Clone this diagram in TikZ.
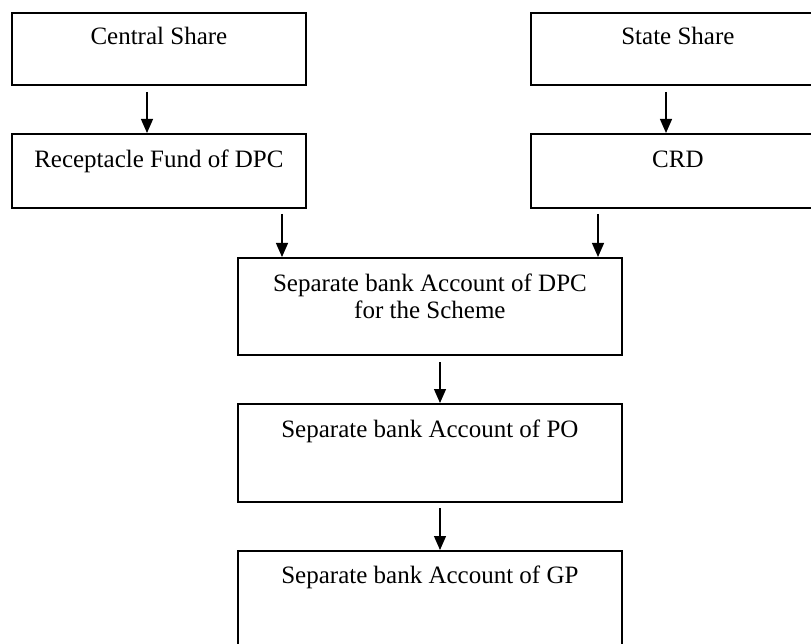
\documentclass[tikz,border=0pt]{standalone}
\usepackage{fontspec}
\setmainfont{Liberation Serif}
\usetikzlibrary{arrows.meta}

\begin{document}
\begin{tikzpicture}[x=1pt,y=-1pt,
  fundbox/.style={draw, line width=1.8pt, anchor=north west, inner sep=0pt},
  boxtext/.style={anchor=base, inner sep=0pt, align=center,
    font=\fontsize{25}{28}\selectfont},
  flow/.style={line width=1.2pt, -{Triangle[length=14pt,width=12pt]}}
]
\useasboundingbox (0,0) rectangle (811,644);
\clip (0,0) rectangle (811,644);

% boxes: top-left corner, width, height
\node[fundbox, minimum width=294pt, minimum height=72pt]  (cs)  at (11,12)  {};
\node[fundbox, minimum width=294pt, minimum height=72pt]  (ss)  at (530,12) {};
\node[fundbox, minimum width=294pt, minimum height=74pt]  (rf)  at (11,133) {};
\node[fundbox, minimum width=294pt, minimum height=74pt]  (crd) at (530,133) {};
\node[fundbox, minimum width=384pt, minimum height=97pt]  (dpc) at (237,257) {};
\node[fundbox, minimum width=384pt, minimum height=98pt]  (po)  at (237,403) {};
\node[fundbox, minimum width=384pt, minimum height=130pt] (gp)  at (237,550) {};

% labels, baseline a fixed distance below each box top
\node[boxtext] (tcs)  at ([yshift=-33pt]cs.north)  {Central Share};
\node[boxtext] (tss)  at ([yshift=-33pt]ss.north)  {State Share};
\node[boxtext] (trf)  at ([yshift=-35pt]rf.north)  {Receptacle Fund of DPC};
\node[boxtext] (tcrd) at ([yshift=-35pt]crd.north) {CRD};
% two-line label: base anchor sits on the second line
\node[boxtext] (tdpc) at ([yshift=-62pt]dpc.north)
  {Separate bank Account of DPC\\for the Scheme};
\node[boxtext] (tpo)  at ([yshift=-34pt]po.north)  {Separate bank Account of PO};
\node[boxtext] (tgp)  at ([yshift=-33pt]gp.north)  {Separate bank Account of GP};

% arrow start points
\coordinate (a1) at (147,92);
\coordinate (a2) at (666,92);
\coordinate (a3) at (282,214);
\coordinate (a4) at (598,214);
\coordinate (a5) at (440,362);
\coordinate (a6) at (440,508);

\draw[flow] (a1) -- (a1 |- rf.north);
\draw[flow] (a2) -- (a2 |- crd.north);
\draw[flow] (a3) -- (a3 |- dpc.north);
\draw[flow] (a4) -- (a4 |- dpc.north);
\draw[flow] (a5) -- (a5 |- po.north);
\draw[flow] (a6) -- (a6 |- gp.north);
\end{tikzpicture}
\end{document}
